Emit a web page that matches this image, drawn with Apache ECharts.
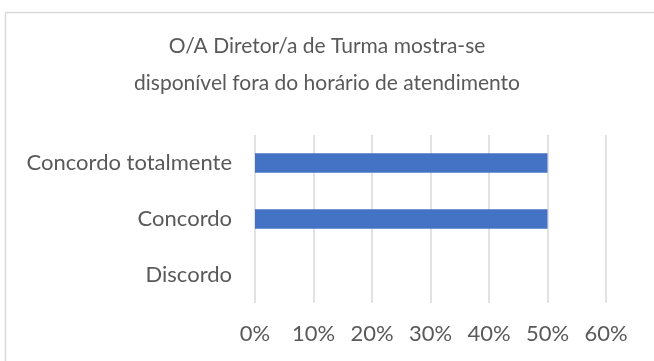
<!DOCTYPE html>
<html>
<head>
<meta charset="utf-8">
<style>
  html, body { margin: 0; padding: 0; background: #fff; }
  #chart { width: 654px; height: 361px; }
</style>
<script src="https://cdn.jsdelivr.net/npm/echarts@6/dist/echarts.min.js"></script>
</head>
<body>
<div id="chart"></div>
<script>
// Survey answers (bottom to top) and their share of responses, in percent
const categories = ['Discordo', 'Concordo', 'Concordo totalmente'];
const shares = [0, 50, 50];
const titleLines = ['O/A Diretor/a de Turma mostra-se', 'disponível fora do horário de atendimento'];

const FONT = 'Lato, "Open Sans", sans-serif';
const TEXT = '#595959';

const titleStyle = {
  fontFamily: FONT,
  fontSize: 21,
  fontWeight: 'normal',
  color: TEXT,
  lineHeight: 21
};

const chart = echarts.init(document.getElementById('chart'), null, { renderer: 'canvas' });
chart.setOption({
  animation: false,
  backgroundColor: '#ffffff',
  title: [
    { text: titleLines[0], left: 'center', top: 36, padding: 0, textStyle: titleStyle },
    { text: titleLines[1], left: 'center', top: 73, padding: 0, textStyle: titleStyle }
  ],
  graphic: [{
    type: 'rect',
    shape: { x: 5.5, y: 12.5, width: 700, height: 400 },
    style: { fill: 'none', stroke: '#d9d9d9', lineWidth: 1.5 },
    silent: true
  }],
  grid: {
    left: 255,
    right: 48,
    top: 135,
    bottom: 58,
    containLabel: false
  },
  xAxis: {
    type: 'value',
    min: 0,
    max: 60,
    interval: 10,
    axisLine: { show: false },
    axisTick: { show: false },
    splitLine: { show: true, lineStyle: { color: '#d9d9d9', width: 1.5 } },
    axisLabel: {
      formatter: '{value}%',
      fontFamily: FONT,
      fontSize: 22,
      color: TEXT,
      margin: 20
    }
  },
  yAxis: {
    type: 'category',
    data: categories,
    axisLine: { show: false },
    axisTick: { show: false },
    axisLabel: {
      fontFamily: FONT,
      fontSize: 22,
      color: TEXT,
      margin: 23
    }
  },
  series: [{
    type: 'bar',
    data: shares,
    barCategoryGap: '65%',
    itemStyle: { color: '#4472c4' }
  }]
});
</script>
</body>
</html>
